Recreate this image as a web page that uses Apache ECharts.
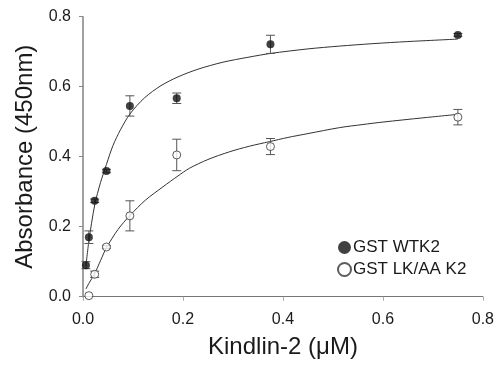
<!DOCTYPE html>
<html>
<head>
<meta charset="utf-8">
<script src="https://cdn.jsdelivr.net/npm/echarts@6/dist/echarts.min.js"></script>
<style>
html,body{margin:0;padding:0;background:#fff;}
#c{width:497px;height:367px;}
</style>
</head>
<body>
<div id="c"></div>
<script>
// Data
var xTicks = [0.0, 0.2, 0.4, 0.6, 0.8];
var yTicks = [0.0, 0.2, 0.4, 0.6, 0.8];

var concWT = [0.00586, 0.0117, 0.0234, 0.0469, 0.0938, 0.1875, 0.375, 0.75];
var absWT  = [0.090, 0.170, 0.274, 0.359, 0.545, 0.567, 0.721, 0.748];
var errWT  = [0.010, 0.018, 0.005, 0.005, 0.029, 0.015, 0.026, 0.004];

var concLK = [0.0117, 0.0234, 0.0469, 0.0938, 0.1875, 0.375, 0.75];
var absLK  = [0.003, 0.064, 0.142, 0.231, 0.405, 0.429, 0.513];
var errLK  = [0.000, 0.009, 0.004, 0.043, 0.045, 0.023, 0.022];

// fitted curves
var fitWTx = [0.00586, 0.0117, 0.0234, 0.035, 0.0469, 0.06, 0.075, 0.0938, 0.123, 0.156, 0.19, 0.23, 0.28, 0.33, 0.375, 0.45, 0.513, 0.58, 0.65, 0.75];
var fitWTy = [0.088, 0.158, 0.262, 0.326, 0.378, 0.432, 0.477, 0.522, 0.568, 0.603, 0.628, 0.650, 0.670, 0.684, 0.695, 0.708, 0.716, 0.723, 0.729, 0.736];

var fitLKx = [0.0059, 0.0117, 0.0234, 0.035, 0.0469, 0.07, 0.0938, 0.125, 0.16, 0.19, 0.213, 0.25, 0.293, 0.333, 0.373, 0.41, 0.45, 0.513, 0.56, 0.6, 0.68, 0.75];
var fitLKy = [0.022, 0.038, 0.066, 0.103, 0.140, 0.192, 0.232, 0.276, 0.314, 0.345, 0.367, 0.392, 0.414, 0.430, 0.443, 0.455, 0.466, 0.483, 0.492, 0.499, 0.511, 0.521];

function pairs(xs, ys){ return xs.map(function(x,i){ return [x, ys[i]]; }); }
function errs(xs, ys, es){ return xs.map(function(x,i){ return [x, ys[i]-es[i], ys[i]+es[i]]; }); }

var FONT = 'Liberation Sans, Arial, sans-serif';

function errRender(params, api){
  var x = api.value(0), lo = api.value(1), hi = api.value(2);
  if (hi - lo <= 0) return null;
  var pTop = api.coord([x, hi]);
  var pBot = api.coord([x, lo]);
  var hw = 4.5;
  var st = {stroke:'#555', lineWidth:1};
  return {
    type:'group',
    children:[
      {type:'line', shape:{x1:pTop[0], y1:pTop[1], x2:pBot[0], y2:pBot[1]}, style:st},
      {type:'line', shape:{x1:pTop[0]-hw, y1:pTop[1], x2:pTop[0]+hw, y2:pTop[1]}, style:st},
      {type:'line', shape:{x1:pBot[0]-hw, y1:pBot[1], x2:pBot[0]+hw, y2:pBot[1]}, style:st}
    ]
  };
}

var chart = echarts.init(document.getElementById('c'), null, {renderer:'canvas'});
chart.setOption({
  animation:false,
  backgroundColor:'#fff',
  grid:{left:83, right:14, top:16.7, bottom:70.3, containLabel:false},
  legend:{
    orient:'vertical', left:332, top:234,
    itemWidth:13, itemHeight:13, itemGap:5,
    icon:'circle',
    data:['GST WTK2','GST LK/AA K2'],
    textStyle:{fontFamily:FONT, fontSize:17, color:'#1a1a1a', padding:[0,0,0,-3]}
  },
  xAxis:{
    type:'value', min:0, max:0.8, interval:0.2,
    name:'Kindlin-2 (\u03bcM)', nameLocation:'middle', nameGap:39,
    nameTextStyle:{fontFamily:FONT, fontSize:24, color:'#1a1a1a'},
    axisLine:{show:true, onZero:false, lineStyle:{color:'#777', width:1}},
    axisTick:{show:true, inside:false, length:4, lineStyle:{color:'#aaa'}},
    axisLabel:{fontFamily:FONT, fontSize:16, color:'#1a1a1a', margin:15,
      formatter:function(v){ return v.toFixed(1); }},
    splitLine:{show:false}
  },
  yAxis:{
    type:'value', min:0, max:0.8, interval:0.2,
    name:'Absorbance (450nm)', nameLocation:'middle', nameGap:45,
    nameTextStyle:{fontFamily:FONT, fontSize:24, color:'#1a1a1a'},
    axisLine:{show:true, onZero:false, lineStyle:{color:'#8a8a8a', width:1.6}},
    axisTick:{show:true, inside:false, length:4, lineStyle:{color:'#888'}},
    axisLabel:{fontFamily:FONT, fontSize:16, color:'#1a1a1a', margin:12,
      formatter:function(v){ return v.toFixed(1); }},
    splitLine:{show:false}
  },
  series:[
    {type:'line', name:'fitWT', data:pairs(fitWTx, fitWTy), smooth:0.3,
     showSymbol:false, symbol:'none', lineStyle:{color:'#333', width:1}, z:1, silent:true},
    {type:'line', name:'fitLK', data:pairs(fitLKx, fitLKy), smooth:0.3,
     showSymbol:false, symbol:'none', lineStyle:{color:'#333', width:1}, z:1, silent:true},
    {type:'custom', name:'errWT', data:errs(concWT, absWT, errWT), renderItem:errRender, z:2, silent:true},
    {type:'custom', name:'errLK', data:errs(concLK, absLK, errLK), renderItem:errRender, z:2, silent:true},
    {type:'scatter', name:'GST WTK2', data:pairs(concWT, absWT), symbol:'circle', symbolSize:8,
     itemStyle:{color:'#111', borderColor:'#111', borderWidth:0}, z:3},
    {type:'scatter', name:'GST LK/AA K2', data:pairs(concLK, absLK), symbol:'circle', symbolSize:8,
     itemStyle:{color:'#fff', borderColor:'#333', borderWidth:1}, z:3}
  ]
});
</script>
</body>
</html>
